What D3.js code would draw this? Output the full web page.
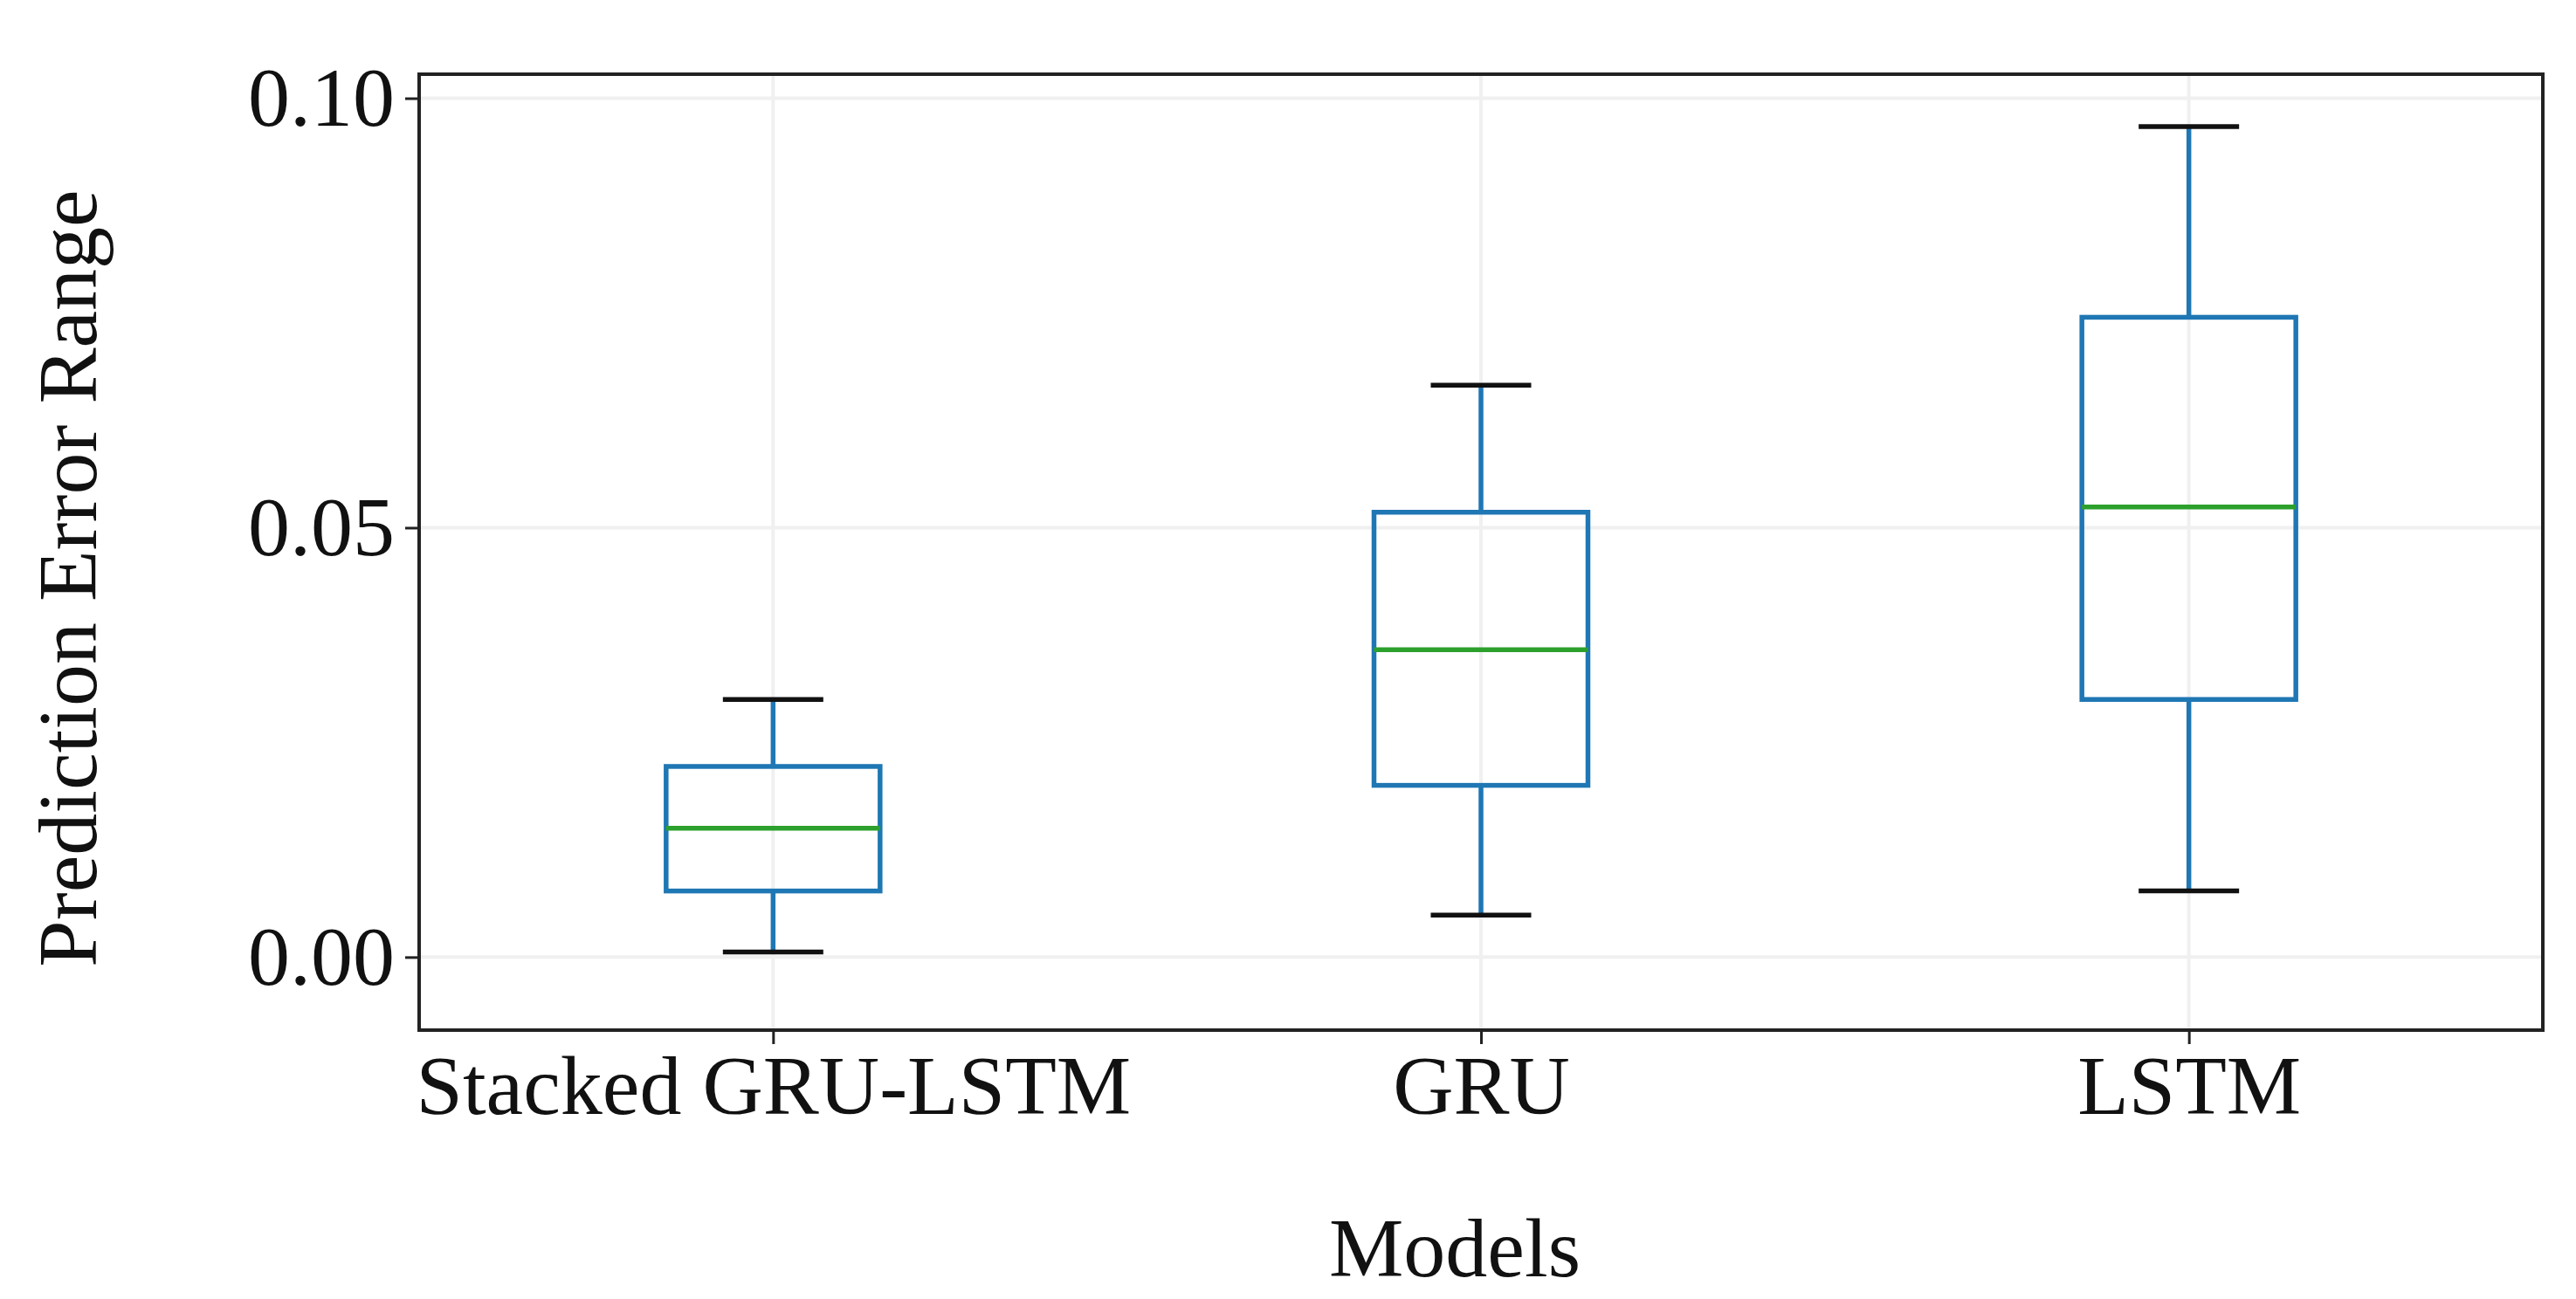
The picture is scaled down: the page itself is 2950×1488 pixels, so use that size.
<!DOCTYPE html>
<html>
<head>
<meta charset="utf-8">
<style>body{margin:0;background:#fff}</style>
</head>
<body>
<script src="https://d3js.org/d3.v7.min.js"></script>
<script>
var models = ["Stacked GRU-LSTM", "GRU", "LSTM"];
var whiskerLow = [0.0006, 0.0049, 0.0077];
var q1 = [0.0077, 0.0200, 0.0300];
var median = [0.0150, 0.0358, 0.0524];
var q3 = [0.0222, 0.0518, 0.0745];
var whiskerHigh = [0.0300, 0.0666, 0.0967];
var yTicks = [0.00, 0.05, 0.10];

var W = 2950, H = 1488;
var plotLeft = 480, plotRight = 2912, plotTop = 85, plotBottom = 1180;
var font = "'Liberation Serif', 'Times New Roman', serif";

var svg = d3.select("body").append("svg").attr("width", W).attr("height", H);

var x = d3.scalePoint().domain(models).range([plotLeft, plotRight]).padding(0.5);
var y = d3.scaleLinear().domain([-0.0085, 0.1028]).range([plotBottom, plotTop]);

// grid
svg.append("g").selectAll("line").data(yTicks).enter().append("line")
  .attr("x1", plotLeft).attr("x2", plotRight)
  .attr("y1", d => y(d)).attr("y2", d => y(d))
  .attr("stroke", "#f0f0f0").attr("stroke-width", 4);
svg.append("g").selectAll("line").data(models).enter().append("line")
  .attr("y1", plotTop).attr("y2", plotBottom)
  .attr("x1", d => x(d)).attr("x2", d => x(d))
  .attr("stroke", "#f0f0f0").attr("stroke-width", 4);

var yAxis = svg.append("g").attr("transform", "translate(" + plotLeft + ",0)")
  .call(d3.axisLeft(y).tickValues(yTicks).tickFormat(d3.format(".2f")).tickSize(16).tickPadding(12));
var xAxis = svg.append("g").attr("transform", "translate(0," + plotBottom + ")")
  .call(d3.axisBottom(x).tickSize(16).tickPadding(12));
[yAxis, xAxis].forEach(function(a) {
  a.select(".domain").remove();
  a.selectAll("line").attr("stroke", "#222").attr("stroke-width", 3);
  a.selectAll("text").attr("font-family", font).attr("font-size", 96).attr("fill", "#111");
});

svg.append("rect").attr("x", plotLeft).attr("y", plotTop)
  .attr("width", plotRight - plotLeft).attr("height", plotBottom - plotTop)
  .attr("fill", "none").attr("stroke", "#222").attr("stroke-width", 4);

var boxW = 245, capW = 115, lw = 5.5;
var g = svg.append("g").selectAll("g").data(models).enter().append("g");
g.append("line").attr("x1", d => x(d)).attr("x2", d => x(d))
  .attr("y1", (d, i) => y(whiskerLow[i])).attr("y2", (d, i) => y(q1[i]))
  .attr("stroke", "#1f77b4").attr("stroke-width", lw);
g.append("line").attr("x1", d => x(d)).attr("x2", d => x(d))
  .attr("y1", (d, i) => y(q3[i])).attr("y2", (d, i) => y(whiskerHigh[i]))
  .attr("stroke", "#1f77b4").attr("stroke-width", lw);
g.append("line").attr("x1", d => x(d) - capW / 2).attr("x2", d => x(d) + capW / 2)
  .attr("y1", (d, i) => y(whiskerLow[i])).attr("y2", (d, i) => y(whiskerLow[i]))
  .attr("stroke", "#111").attr("stroke-width", lw);
g.append("line").attr("x1", d => x(d) - capW / 2).attr("x2", d => x(d) + capW / 2)
  .attr("y1", (d, i) => y(whiskerHigh[i])).attr("y2", (d, i) => y(whiskerHigh[i]))
  .attr("stroke", "#111").attr("stroke-width", lw);
g.append("rect").attr("x", d => x(d) - boxW / 2).attr("width", boxW)
  .attr("y", (d, i) => y(q3[i])).attr("height", (d, i) => y(q1[i]) - y(q3[i]))
  .attr("fill", "none").attr("stroke", "#1f77b4").attr("stroke-width", lw);
g.append("line").attr("x1", d => x(d) - boxW / 2).attr("x2", d => x(d) + boxW / 2)
  .attr("y1", (d, i) => y(median[i])).attr("y2", (d, i) => y(median[i]))
  .attr("stroke", "#2ca02c").attr("stroke-width", lw);

svg.append("text").attr("x", (plotLeft + plotRight) / 2 - 30).attr("y", 1462)
  .attr("text-anchor", "middle").attr("font-family", font).attr("font-size", 96)
  .attr("fill", "#111").text("Models");
svg.append("text").attr("transform", "translate(110," + ((plotTop + plotBottom) / 2 + 30) + ") rotate(-90)")
  .attr("text-anchor", "middle").attr("font-family", font).attr("font-size", 96)
  .attr("fill", "#111").text("Prediction Error Range");
</script>
</body>
</html>
